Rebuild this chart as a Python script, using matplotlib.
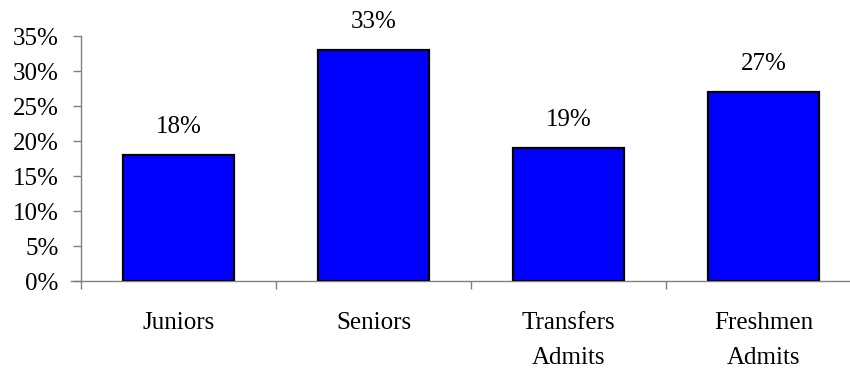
import matplotlib
matplotlib.use("Agg")
import matplotlib.pyplot as plt
from matplotlib.ticker import FuncFormatter

categories = ["Juniors", "Seniors", "Transfers\nAdmits", "Freshmen\nAdmits"]
values = [18, 33, 19, 27]
yticks = [0, 5, 10, 15, 20, 25, 30, 35]

plt.rcParams["font.family"] = ["Liberation Serif", "DejaVu Serif"]
FS = 18

fig = plt.figure(figsize=(8.5, 3.69), dpi=100)
ax = fig.add_axes([81 / 850, 1 - 281 / 369, (861 - 81) / 850, (281 - 36) / 369])

x = list(range(len(categories)))
bars = ax.bar(x, values, width=0.565, color="#0000FF", edgecolor="black", linewidth=1.6, zorder=3)

for xi, v in zip(x, values):
    ax.annotate(f"{v}%", (xi, v), xytext=(0, 20), textcoords="offset points",
                ha="center", va="center", fontsize=FS)

ax.set_xlim(-0.5, len(categories) - 0.5)
ax.set_ylim(0, 35)
ax.set_yticks(yticks)
ax.yaxis.set_major_formatter(FuncFormatter(lambda v, p: f"{int(v)}%"))

# category boundaries carry the tick marks; labels sit at the centres
ax.set_xticks([i - 0.5 for i in range(len(categories) + 1)])
ax.set_xticklabels([])
ax.set_xticks(x, minor=True)
ax.set_xticklabels(categories, minor=True, fontsize=FS, linespacing=1.8)
ax.tick_params(axis="x", which="minor", length=0, pad=22)
ax.tick_params(axis="x", which="major", length=6, width=1, color="#808080", direction="out")
ax.tick_params(axis="y", length=6, width=1, color="#808080", direction="out", labelsize=FS, pad=10)

for s in ["top", "right"]:
    ax.spines[s].set_visible(False)
for s in ["left", "bottom"]:
    ax.spines[s].set_color("#808080")
    ax.spines[s].set_linewidth(1)
ax.spines["bottom"].set_bounds(-0.5 - 0.05, len(categories) - 0.5)

fig.savefig("out.png", dpi=100)
